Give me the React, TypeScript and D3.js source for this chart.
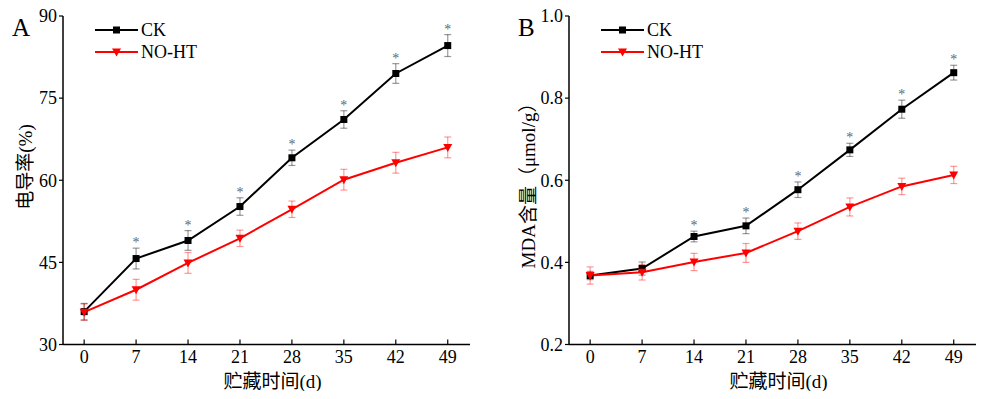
import React from 'react';
import * as d3 from 'd3';

// storage days
const days = [0, 7, 14, 21, 28, 35, 42, 49];

// panel A: electrolyte leakage (%)
const ckA = [36.0, 45.7, 49.0, 55.2, 64.1, 71.1, 79.5, 84.6];
const ckAErr = [1.5, 1.9, 1.8, 1.6, 1.4, 1.6, 1.8, 2.0];
const noA = [35.9, 40.0, 44.9, 49.4, 54.7, 60.1, 63.2, 66.0];
const noAErr = [1.5, 1.9, 1.9, 1.5, 1.5, 1.9, 1.9, 1.9];
const starsA = [7, 14, 21, 28, 35, 42, 49];
const ticksA = [30, 45, 60, 75, 90];

// panel B: MDA content (umol/g)
const ckB = [0.368, 0.385, 0.463, 0.489, 0.577, 0.674, 0.773, 0.862];
const ckBErr = [0.01, 0.016, 0.013, 0.019, 0.019, 0.016, 0.022, 0.018];
const noB = [0.368, 0.376, 0.401, 0.423, 0.476, 0.535, 0.585, 0.613];
const noBErr = [0.021, 0.019, 0.021, 0.023, 0.02, 0.022, 0.02, 0.021];
const starsB = [14, 21, 28, 35, 42, 49];
const ticksB = [0.2, 0.4, 0.6, 0.8, 1.0];

const serif = '"Liberation Serif", "Times New Roman", "Noto Sans CJK SC", serif';

type PanelProps = {
  left: number;
  letter: string;
  yTitle: string;
  yTitleX: number;
  yTitleY: number;
  yDomain: [number, number];
  yTicks: number[];
  fmt: (v: number) => string;
  ck: number[];
  ckErr: number[];
  no: number[];
  noErr: number[];
  stars: number[];
};

function Panel(p: PanelProps) {
  const top = 16;
  const bottom = 344.5;
  const axisX = p.left;
  const x = d3.scaleLinear().domain([-2.85, 52]).range([axisX, axisX + 407]);
  const y = d3.scaleLinear().domain(p.yDomain).range([bottom, top]);

  const line = d3.line<number>()
    .x((d, i) => x(days[i]))
    .y((d) => y(d));

  const errBars = (vals: number[], errs: number[], color: string) =>
    vals.map((v, i) => {
      const cx = x(days[i]);
      const y1 = y(v + errs[i]);
      const y2 = y(v - errs[i]);
      return (
        <g key={'e' + i} stroke={color} strokeOpacity={0.4} strokeWidth={1.2}>
          <line x1={cx} x2={cx} y1={y1} y2={y2} />
          <line x1={cx - 3.5} x2={cx + 3.5} y1={y1} y2={y1} />
          <line x1={cx - 3.5} x2={cx + 3.5} y1={y2} y2={y2} />
        </g>
      );
    });

  const tri = (cx: number, cy: number) =>
    `M${cx - 4.5},${cy - 3.5}L${cx + 4.5},${cy - 3.5}L${cx},${cy + 4.5}Z`;

  return (
    <g fontFamily={serif}>
      <text x={axisX - 51} y={36} fontSize={25}>{p.letter}</text>

      {/* y axis */}
      <line x1={axisX} x2={axisX} y1={top} y2={bottom} stroke="#000" strokeWidth={1.5} />
      {p.yTicks.map((t) => (
        <g key={'y' + t}>
          <line x1={axisX - 4} x2={axisX} y1={y(t)} y2={y(t)} stroke="#000" strokeWidth={1.2} />
          <text x={axisX - 6} y={y(t)} dy="0.35em" textAnchor="end" fontSize={18}>{p.fmt(t)}</text>
        </g>
      ))}

      {/* x axis */}
      <line x1={axisX} x2={x(52)} y1={bottom} y2={bottom} stroke="#000" strokeWidth={1.5} />
      {days.map((d) => (
        <g key={'x' + d}>
          <line x1={x(d)} x2={x(d)} y1={bottom - 5} y2={bottom} stroke="#000" strokeWidth={1.2} />
          <text x={x(d)} y={bottom + 18} textAnchor="middle" fontSize={18}>{d}</text>
        </g>
      ))}
      <text x={(x(-2.85) + x(52)) / 2 + 6} y={388} textAnchor="middle" fontSize={19}>贮藏时间(d)</text>
      <text
        transform={`translate(${p.yTitleX},${p.yTitleY}) rotate(-90)`}
        textAnchor="middle"
        fontSize={19}
      >
        {p.yTitle}
      </text>

      {/* error bars */}
      {errBars(p.no, p.noErr, '#ff0000')}
      {errBars(p.ck, p.ckErr, '#000000')}

      {/* lines */}
      <path d={line(p.ck) ?? ''} fill="none" stroke="#000" strokeWidth={2} />
      <path d={line(p.no) ?? ''} fill="none" stroke="#ff0000" strokeWidth={2} />

      {/* markers */}
      {p.ck.map((v, i) => (
        <rect key={'m' + i} x={x(days[i]) - 3.5} y={y(v) - 3.5} width={7} height={7} fill="#000" />
      ))}
      {p.no.map((v, i) => (
        <path key={'t' + i} d={tri(x(days[i]), y(v))} fill="#ff0000" />
      ))}

      {/* significance marks */}
      {p.stars.map((d) => {
        const i = days.indexOf(d);
        return (
          <text key={'s' + d} x={x(d)} y={y(p.ck[i] + p.ckErr[i]) - 1} textAnchor="middle"
            fontSize={14} fill="#666">*</text>
        );
      })}

      {/* legend */}
      <line x1={axisX + 32} x2={axisX + 75} y1={30} y2={30} stroke="#000" strokeWidth={2} />
      <rect x={axisX + 50} y={26.5} width={7} height={7} fill="#000" />
      <text x={axisX + 78} y={30} dy="0.35em" fontSize={18}>CK</text>
      <line x1={axisX + 32} x2={axisX + 75} y1={52} y2={52} stroke="#ff0000" strokeWidth={2} />
      <path d={tri(axisX + 53.5, 52)} fill="#ff0000" />
      <text x={axisX + 78} y={52} dy="0.35em" fontSize={18}>NO-HT</text>
    </g>
  );
}

export default function App() {
  return (
    <svg width={1000} height={399} style={{ display: 'block', margin: '-8px' }}>
      <rect width={1000} height={399} fill="#fff" />
      <Panel
        left={63}
        letter="A"
        yTitle="电导率(%)"
        yTitleX={32}
        yTitleY={167}
        yDomain={[30, 90]}
        yTicks={ticksA}
        fmt={(v) => String(v)}
        ck={ckA}
        ckErr={ckAErr}
        no={noA}
        noErr={noAErr}
        stars={starsA}
      />
      <Panel
        left={569}
        letter="B"
        yTitle="MDA含量（μmol/g）"
        yTitleX={535}
        yTitleY={181}
        yDomain={[0.2, 1.0]}
        yTicks={ticksB}
        fmt={(v) => v.toFixed(1)}
        ck={ckB}
        ckErr={ckBErr}
        no={noB}
        noErr={noBErr}
        stars={starsB}
      />
    </svg>
  );
}
